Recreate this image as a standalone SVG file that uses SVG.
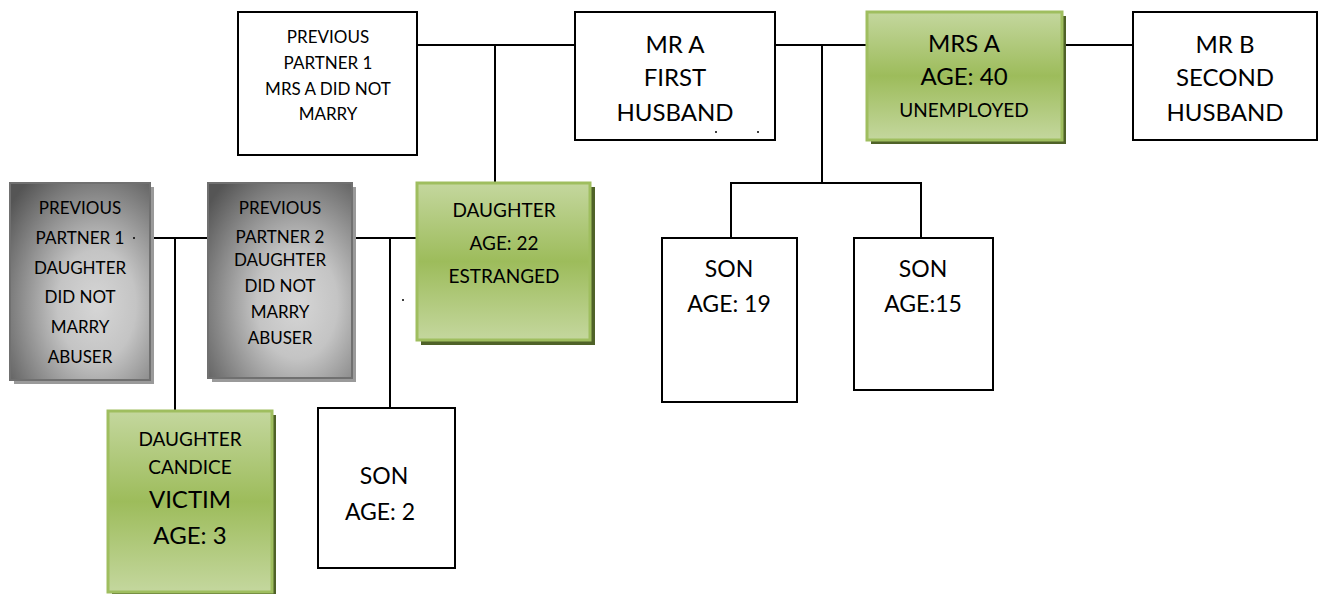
<svg xmlns="http://www.w3.org/2000/svg" width="1325" height="594" viewBox="0 0 1325 594">
<defs>
<linearGradient id="green" x1="0" y1="0" x2="0" y2="1">
<stop offset="0" stop-color="#c4d79e"/>
<stop offset="0.5" stop-color="#9dbc5b"/>
<stop offset="1" stop-color="#c4d79e"/>
</linearGradient>
<radialGradient id="gray" cx="0.62" cy="0.62" r="0.8" fx="0.62" fy="0.62">
<stop offset="0" stop-color="#d6d6d6"/>
<stop offset="0.35" stop-color="#c4c4c4"/>
<stop offset="1" stop-color="#555555"/>
</radialGradient>
<style>
.plain{fill:#fff;stroke:#000;stroke-width:2}
.gbox{fill:url(#green);stroke:#9fbe5f;stroke-width:3}
.gsh{fill:#4f6228}
.grbox{fill:url(#gray);stroke:#707070;stroke-width:2}
.grsh{fill:#9a9a9a}
.conn line{stroke:#000;stroke-width:2}
text{font-family:Lato,"Open Sans","Liberation Sans",sans-serif;fill:#000;text-anchor:middle}
.s17{font-size:17px}
.s19{font-size:19px}
.s23{font-size:23px}
.s24{font-size:24px}
</style>
</defs>

<g id="connectors" class="conn">
<line x1="417" y1="45" x2="575" y2="45"/>
<line x1="495" y1="45" x2="495" y2="183"/>
<line x1="775" y1="45" x2="867" y2="45"/>
<line x1="822" y1="45" x2="822" y2="183"/>
<line x1="1062" y1="45" x2="1133" y2="45"/>
<line x1="731" y1="183" x2="921" y2="183"/>
<line x1="731" y1="182" x2="731" y2="238"/>
<line x1="921" y1="182" x2="921" y2="238"/>
<line x1="150" y1="238" x2="208" y2="238"/>
<line x1="175" y1="238" x2="175" y2="411"/>
<line x1="352" y1="238" x2="417" y2="238"/>
<line x1="390" y1="238" x2="390" y2="408"/>
</g>

<g id="prev-partner-1-mrs-a">
<rect class="plain" x="238" y="12" width="179" height="143"/>
<text class="s17" x="328" y="43">PREVIOUS</text>
<text class="s17" x="328" y="69">PARTNER 1</text>
<text class="s17" x="328" y="95">MRS A DID NOT</text>
<text class="s17" x="328" y="120">MARRY</text>
</g>

<g id="mr-a">
<rect class="plain" x="575" y="12" width="200" height="128"/>
<text class="s24" x="675" y="53">MR A</text>
<text class="s24" x="675" y="86">FIRST</text>
<text class="s24" x="675" y="121">HUSBAND</text>
<circle cx="716" cy="132" r="1" fill="#000"/>
<circle cx="758" cy="132" r="1" fill="#000"/>
</g>

<g id="mrs-a">
<rect class="gsh" x="871" y="16" width="195" height="128"/>
<rect class="gbox" x="867" y="12" width="195" height="128"/>
<text class="s24" x="964" y="52">MRS A</text>
<text class="s24" x="964" y="85">AGE: 40</text>
<text class="s19" x="964" y="117">UNEMPLOYED</text>
</g>

<g id="mr-b">
<rect class="plain" x="1133" y="12" width="184" height="128"/>
<text class="s24" x="1225" y="53">MR B</text>
<text class="s24" x="1225" y="86">SECOND</text>
<text class="s24" x="1225" y="121">HUSBAND</text>
</g>

<g id="daughter-22">
<rect class="gsh" x="421" y="187" width="174" height="158"/>
<rect class="gbox" x="417" y="183" width="173" height="157"/>
<text class="s19" x="504" y="217">DAUGHTER</text>
<text class="s19" x="504" y="250">AGE: 22</text>
<text class="s19" x="504" y="283">ESTRANGED</text>
</g>

<g id="son-19">
<rect class="plain" x="662" y="238" width="135" height="164"/>
<text class="s23" x="729" y="277">SON</text>
<text class="s23" x="729" y="312">AGE: 19</text>
</g>

<g id="son-15">
<rect class="plain" x="854" y="238" width="139" height="152"/>
<text class="s23" x="923" y="277">SON</text>
<text class="s23" x="923" y="312">AGE:15</text>
</g>

<g id="prev-partner-1-daughter">
<rect class="grsh" x="14" y="187" width="140" height="197"/>
<rect class="grbox" x="10" y="183" width="140" height="197"/>
<text class="s17" x="80" y="214">PREVIOUS</text>
<text class="s17" x="80" y="244">PARTNER 1</text>
<circle cx="134" cy="238" r="1" fill="#000"/>
<text class="s17" x="80" y="274">DAUGHTER</text>
<text class="s17" x="80" y="303">DID NOT</text>
<text class="s17" x="80" y="333">MARRY</text>
<text class="s17" x="80" y="363">ABUSER</text>
</g>

<g id="prev-partner-2-daughter">
<rect class="grsh" x="212" y="187" width="144" height="195"/>
<rect class="grbox" x="208" y="183" width="144" height="195"/>
<text class="s17" x="280" y="214">PREVIOUS</text>
<text class="s17" x="280" y="243">PARTNER 2</text>
<text class="s17" x="280" y="266">DAUGHTER</text>
<text class="s17" x="280" y="292">DID NOT</text>
<text class="s17" x="280" y="318">MARRY</text>
<text class="s17" x="280" y="344">ABUSER</text>
</g>

<circle cx="403" cy="300" r="1" fill="#000"/>

<g id="daughter-candice">
<rect class="gsh" x="112" y="415" width="164" height="181"/>
<rect class="gbox" x="108" y="411" width="164" height="181"/>
<text class="s19" x="190" y="446">DAUGHTER</text>
<text class="s19" x="190" y="474">CANDICE</text>
<text class="s24" x="190" y="508">VICTIM</text>
<text class="s24" x="190" y="544">AGE: 3</text>
</g>

<g id="son-2">
<rect class="plain" x="318" y="408" width="137" height="160"/>
<text class="s23" x="384" y="484">SON</text>
<text class="s23" x="380" y="520">AGE: 2</text>
</g>
</svg>
